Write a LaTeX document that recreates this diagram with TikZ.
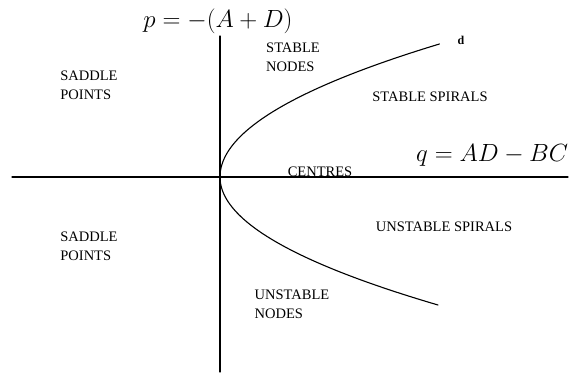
\documentclass[tikz,border=0pt]{standalone}
\usepackage{fontspec}
\setmainfont{Liberation Serif}

\begin{document}
\begin{tikzpicture}[x=1pt,y=1pt,line cap=round,line join=round,every node/.style={inner sep=1pt},
  region/.style={align=left,font=\fontsize{14.5}{19}\selectfont}]
  \def\ku{0.0124}
  \def\kl{0.0133}
  \useasboundingbox (-220,-197) rectangle (350,177);
  % axes
  \coordinate (qleft) at (-208,0);
  \coordinate (qright) at (348,0);
  \coordinate (ptop) at (0,141);
  \coordinate (pbot) at (0,-195);
  \draw[line width=1.2pt] (qleft) -- (qright);
  \draw[line width=1.2pt] (ptop) -- (pbot);
  \node[anchor=base,font=\fontsize{25}{28}\selectfont] (plab) at (-2,149) {$p=-(A+D)$};
  \node[anchor=base west,font=\fontsize{25}{28}\selectfont] (qlab) at (195,15) {$q=AD-BC$};
  % the parabola p^2=4q
  \draw[line width=1.1pt] plot[domain=0:133,samples=120,smooth] ({\ku*\x*\x},{\x});
  \draw[line width=1.1pt] plot[domain=0:128,samples=120,smooth] ({\kl*\x*\x},{-\x});
  \node[font=\fontsize{12}{14}\selectfont\bfseries] (d) at (241,137) {d};
  % regions
  \node[region] (snodes) at (73,120) {STABLE\\NODES};
  \node[region] (saddleup) at (-131,92) {SADDLE\\POINTS};
  \node[region] (sspir) at (210,80) {STABLE SPIRALS};
  \node[region] (centres) at (100,5) {CENTRES};
  \node[region] (saddledn) at (-131,-69) {SADDLE\\POINTS};
  \node[region] (uspir) at (224,-50) {UNSTABLE SPIRALS};
  \node[region] (unodes) at (72,-127) {UNSTABLE\\NODES};
\end{tikzpicture}
\end{document}
